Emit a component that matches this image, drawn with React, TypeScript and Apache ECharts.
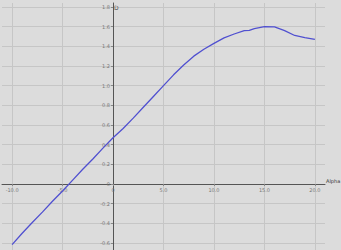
import React, { useEffect, useRef } from "react";
import * as echarts from "echarts";

const alpha = [-10, -9, -8, -7, -6, -5, -4, -3, -2, -1, 0, 1, 2, 3, 4, 5, 6, 7, 8, 9, 10, 11, 12, 13, 13.5, 14, 15, 16, 17, 18, 19, 20];
const cl = [-0.615, -0.5, -0.39, -0.285, -0.175, -0.07, 0.04, 0.15, 0.255, 0.365, 0.47, 0.565, 0.67, 0.78, 0.89, 1.0, 1.11, 1.21, 1.3, 1.37, 1.43, 1.485, 1.525, 1.56, 1.562, 1.58, 1.6, 1.598, 1.56, 1.51, 1.488, 1.47];
const xTicks = [-10, -5, 0, 5, 10, 15, 20];
const yTicks = [-0.6, -0.4, -0.2, 0, 0.2, 0.4, 0.6, 0.8, 1.0, 1.2, 1.4, 1.6, 1.8];
const yName = "D";

const fmt = (v: number) => (Math.abs(v) < 1e-9 ? "0" : v.toFixed(1));

export default function App() {
  const ref = useRef<HTMLDivElement>(null);
  useEffect(() => {
    document.body.style.margin = "0";
    const chart = echarts.init(ref.current!, null, { renderer: "svg" });
    chart.setOption({
      animation: false,
      backgroundColor: "#dcdcdc",
      grid: { left: 2, right: 16, top: 3, bottom: 0, containLabel: false, outerBoundsMode: "none" },
      xAxis: {
        type: "value",
        min: -11,
        max: 21,
        offset: -66,
        name: "Alpha",
        nameLocation: "end",
        nameGap: 1,
        nameTextStyle: { fontSize: 5, color: "#333", fontFamily: "DejaVu Sans", verticalAlign: "bottom", align: "left", padding: [0, 0, 1, 0] },
        axisLine: { onZero: false, lineStyle: { color: "#555", width: 1 } },
        axisTick: { show: true, customValues: xTicks, length: 2, lineStyle: { color: "#888" } },
        axisLabel: { customValues: xTicks, formatter: fmt, fontSize: 5, color: "#777", margin: 3, fontFamily: "DejaVu Sans" },
        splitLine: { show: true, lineStyle: { color: "#c6c6c6", width: 1 } },
      },
      yAxis: {
        type: "value",
        min: -0.67,
        max: 1.84,
        offset: -111,
        axisLine: { onZero: false, lineStyle: { color: "#555", width: 1 } },
        axisTick: { show: true, customValues: yTicks, length: 2, lineStyle: { color: "#888" } },
        axisLabel: { customValues: yTicks, formatter: fmt, fontSize: 5, color: "#777", margin: 3, fontFamily: "DejaVu Sans" },
        splitLine: { show: true, lineStyle: { color: "#c6c6c6", width: 1 } },
      },
      series: [
        {
          type: "line",
          data: alpha.map((a, i) => [a, cl[i]]),
          showSymbol: false,
          symbol: "none",
          lineStyle: { color: "#5050d0", width: 1.3 },
        },
      ],
    });
    const p = chart.convertToPixel({ gridIndex: 0 }, [0, 1.84]) as number[];
    chart.setOption({
      graphic: [
        {
          type: "text",
          x: p[0] + 1,
          y: p[1] + 1,
          style: { text: yName, fontSize: 6, fill: "#555", fontFamily: "DejaVu Sans", align: "left", verticalAlign: "top" },
        },
      ],
    });
    return () => chart.dispose();
  }, []);
  return <div ref={ref} style={{ width: 341, height: 250 }} />;
}
